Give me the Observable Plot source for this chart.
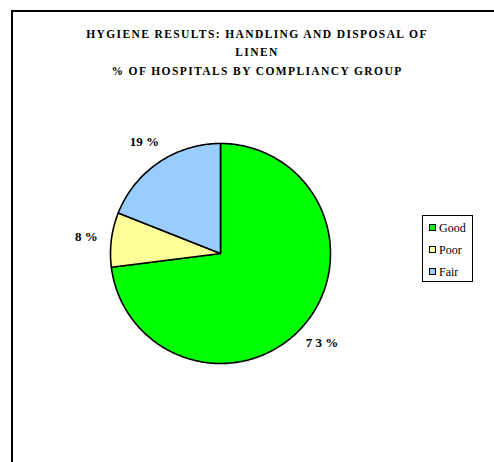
<!DOCTYPE html>
<html>
<head>
<meta charset="utf-8">
<script src="https://cdn.jsdelivr.net/npm/d3@7"></script>
<script src="https://cdn.jsdelivr.net/npm/@observablehq/plot@0.6"></script>
<style>
  body { margin: 0; background: #fff; }
  #wrap { position: relative; width: 494px; height: 462px; overflow: hidden; background: #fff; font-family: "Liberation Serif", "DejaVu Serif", serif; }
  #frame { position: absolute; left: 11px; top: 10px; width: 700px; height: 700px; border-left: 2px solid #000; border-top: 2px solid #000; }
  #title { position: absolute; left: 0; top: 25px; width: 514px; text-align: center; font-weight: bold; font-size: 11.5px; letter-spacing: 1.4px; line-height: 18.4px; color: #000; }
  #legend { position: absolute; left: 422px; top: 215px; width: 51px; height: 67px; border: 1px solid #000; box-sizing: border-box; background: #fff; }
  .item { position: absolute; left: 0; height: 14px; font-size: 12px; line-height: 14px; color: #000; }
  .sw { position: absolute; left: 6px; top: 3px; width: 5px; height: 5px; border: 1.5px solid #000; }
  .lab { position: absolute; left: 16px; top: 0; white-space: nowrap; }
  #chart { position: absolute; left: 0; top: 0; }
</style>
</head>
<body>
<div id="wrap">
  <div id="frame"></div>
  <div id="chart"></div>
  <div id="title"></div>
  <div id="legend"></div>
</div>
<script>
const titleLines = ["HYGIENE RESULTS: HANDLING AND DISPOSAL OF", "LINEN", "% OF HOSPITALS BY COMPLIANCY GROUP"];
const categories = ["Good", "Poor", "Fair"];
const values = [73, 8, 19];
const labels = ["7 3 %", "8 %", "19 %"];
const colors = ["#00FF00", "#FFFF99", "#99CCFF"];

const data = categories.map((c, i) => ({category: c, value: values[i], label: labels[i]}));
const arcs = d3.pie().sort(null).value(d => d.value)(data);

const polyPts = [];
arcs.forEach(a => {
  const c = a.data.category;
  polyPts.push({category: c, x: 0, y: 0});
  const n = Math.max(2, Math.ceil((a.endAngle - a.startAngle) / (Math.PI / 180)));
  for (let k = 0; k <= n; k++) {
    const t = a.startAngle + (a.endAngle - a.startAngle) * k / n;
    polyPts.push({category: c, x: Math.sin(t), y: Math.cos(t)});
  }
  polyPts.push({category: c, x: 0, y: 0});
});
const labelR = 1.23;
const labelPts = arcs.map(a => {
  const m = (a.startAngle + a.endAngle) / 2;
  return {label: a.data.label, x: labelR * Math.sin(m), y: labelR * Math.cos(m)};
});

const chart = Plot.plot({
  width: 494,
  height: 462,
  marginLeft: 110,
  marginRight: 164,
  marginTop: 143,
  marginBottom: 99,
  x: {domain: [-1, 1], axis: null},
  y: {domain: [-1, 1], axis: null},
  color: {domain: categories, range: colors},
  style: {background: "transparent", overflow: "visible"},
  marks: [
    Plot.line(polyPts, {x: "x", y: "y", z: "category", fill: "category", stroke: "#000", strokeWidth: 1.6, strokeLinejoin: "round", curve: "linear"}),
    Plot.text(labelPts, {x: "x", y: "y", text: "label", fontWeight: "bold", fontSize: 13, fill: "#000", fontFamily: "Liberation Serif, DejaVu Serif, serif", letterSpacing: "0.3px"})
  ]
});
document.getElementById("chart").appendChild(chart);

document.getElementById("title").innerHTML = titleLines.join("<br>");

const legend = document.getElementById("legend");
const tops = [5, 27, 49];
categories.forEach((c, i) => {
  const it = document.createElement("div");
  it.className = "item";
  it.style.top = tops[i] + "px";
  it.innerHTML = `<span class="sw" style="background:${colors[i]}"></span><span class="lab">${c}</span>`;
  legend.appendChild(it);
});
</script>
</body>
</html>
